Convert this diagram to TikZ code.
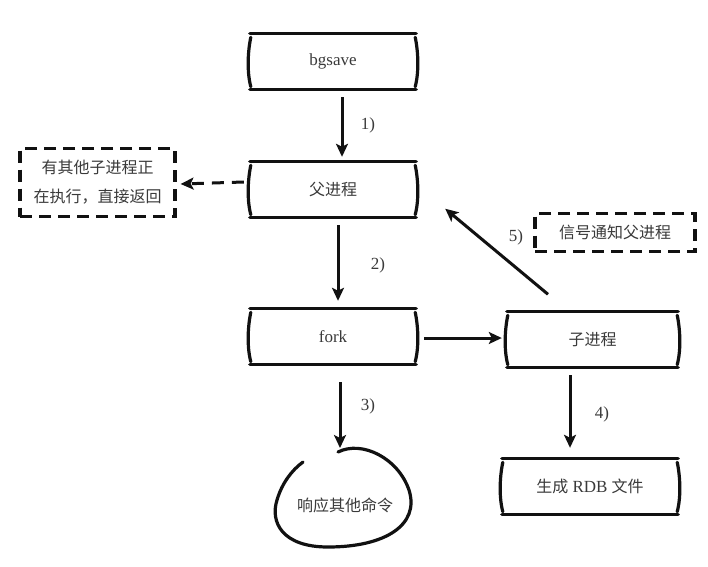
\documentclass[tikz,border=0pt]{standalone}
\usepackage{fontspec}
\setmainfont{Liberation Serif}
\newfontfamily\cjk{Noto Sans CJK SC}
\usetikzlibrary{arrows.meta}
\definecolor{ink}{HTML}{111111}
\definecolor{txt}{HTML}{3a3a3a}
\begin{document}
\begin{tikzpicture}[x=1pt,y=-1pt,
  boxn/.style={inner sep=0pt,minimum width=170pt,minimum height=56pt,text=txt,font={\fontsize{17}{19}\selectfont}},
  cjkt/.style={font={\cjk\fontsize{16}{20}\selectfont},text=txt},
  boxline/.style={line width=3.2pt,draw=ink,line cap=round},
  dbox/.style={draw=ink,line width=3.2pt,dash pattern=on 12pt off 7pt,inner sep=0pt},
  arr/.style={line width=3pt,draw=ink,-{Stealth[length=13pt,width=12pt,inset=3pt]}},
  darr/.style={arr,dash pattern=on 12pt off 8pt},
  lab/.style={text=txt,font={\fontsize{17}{19}\selectfont}}]
\useasboundingbox (0,0) rectangle (708,566);
\fill[white] (0,0) rectangle (708,566);

% boxes
\node[boxn] (bg) at (333,61.5) {bgsave};
\node[boxn,cjkt] (parent) at (333,189.5) {父进程};
\node[boxn] (fork) at (333,336.5) {fork};
\node[boxn,cjkt,minimum width=175pt] (child) at (592.5,339.5) {子进程};
\node[boxn,minimum width=180pt] (rdb) at (590,486.5) {{\cjk\fontsize{16}{20}\selectfont 生成} RDB {\cjk\fontsize{16}{20}\selectfont 文件}};

\foreach \n in {bg,parent,fork,child,rdb}{
  \draw[boxline] ([shift={(2,0)}]\n.north west) -- ([shift={(-2,0)}]\n.north east);
  \draw[boxline] ([shift={(2,0)}]\n.south west) -- ([shift={(-2,0)}]\n.south east);
  \draw[boxline] ([shift={(3,4)}]\n.north west) .. controls ([shift={(0,18)}]\n.north west) and ([shift={(-1,-18)}]\n.south west) .. ([shift={(3,-3)}]\n.south west);
  \draw[boxline] ([shift={(-3,4)}]\n.north east) .. controls ([shift={(0,18)}]\n.north east) and ([shift={(1,-18)}]\n.south east) .. ([shift={(-3,-3)}]\n.south east);
}

% dashed boxes
\node[dbox,cjkt,minimum width=155pt,minimum height=68pt,align=center,font={\cjk\fontsize{16}{29}\selectfont}] (busy) at (97.5,182.5) {有其他子进程正\\在执行，直接返回};
\node[dbox,cjkt,minimum width=160pt,minimum height=38pt] (signal) at (615,232.5) {信号通知父进程};

% blob
\node[cjkt,inner sep=0pt] (blob) at (345,505) {响应其他命令};
\coordinate (blobtop) at (338,452);
\draw[boxline] (blobtop) .. controls (362,440) and (398,458) .. (409,490)
  .. controls (420,525) and (385,547) .. (328,547)
  .. controls (282,547) and (270,522) .. (277,500)
  .. controls (282,483) and (292,470) .. (303,462);

% arrows
\draw[arr] ([shift={(9,7.5)}]bg.south) -- ([shift={(9,-4.5)}]parent.north);
\node[lab] (l1) at (368,125) {1)};
\draw[darr] ([shift={(-4,-7.5)}]parent.west) -- ([shift={(4,1.5)}]busy.east);
\draw[arr] ([shift={(5,7.5)}]parent.south) -- ([shift={(5,-7.5)}]fork.north);
\node[lab] (l2) at (378,265) {2)};
\draw[arr] ([shift={(6,1.5)}]fork.east) -- ([shift={(-3,-1.5)}]child.west);
\draw[arr] ([shift={(7,17.5)}]fork.south) -- ([shift={(2,-4)}]blobtop);
\node[lab] (l3) at (368,406) {3)};
\draw[arr] ([shift={(-22.5,7.5)}]child.south) -- ([shift={(-20,-10.5)}]rdb.north);
\node[lab] (l4) at (602,414) {4)};
\draw[arr] ([shift={(-44.5,-17)}]child.north) -- ([shift={(27,-9)}]parent.south east);
\node[lab] (l5) at (516,237) {5)};
\end{tikzpicture}
\end{document}
